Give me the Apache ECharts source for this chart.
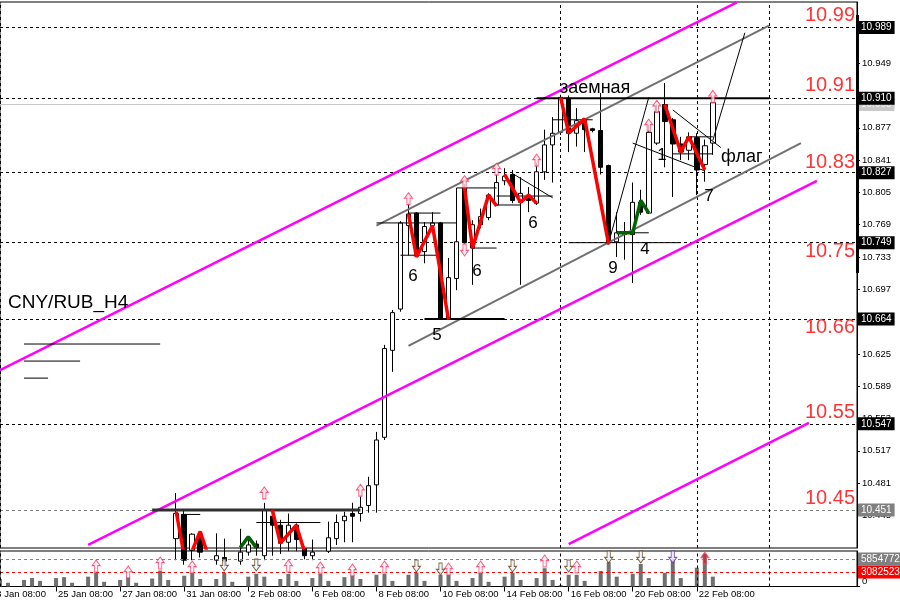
<!DOCTYPE html>
<html>
<head>
<meta charset="utf-8">
<script src="https://cdn.jsdelivr.net/npm/echarts@6.0.0/dist/echarts.min.js"></script>
<style>
html,body{margin:0;padding:0;background:#fff;}
#main{width:900px;height:607px;}
</style>
</head>
<body>
<div id="main"></div>
<script>
// trading days of the H4 chart, 4 bars per day
const days = ['23 Jan','24 Jan','25 Jan','26 Jan','27 Jan','30 Jan','31 Jan','1 Feb','2 Feb','3 Feb',
  '6 Feb','7 Feb','8 Feb','9 Feb','10 Feb','13 Feb','14 Feb','15 Feb','16 Feb','17 Feb',
  '20 Feb','21 Feb','22 Feb','24 Feb','27 Feb','28 Feb','1 Mar','2 Mar'];
const hours = ['08:00','12:00','16:00','20:00'];
const barCount = 90;     // bars with data, the rest is the empty shift on the right
const slotCount = 108;

// candles, first visible bar is index 22 (everything before is below the window)
const firstBar = 22;
const opens  = [10.419,10.446,10.406,10.424,10.395,10.395,10.398,10.396,10.394,10.404,10.413,10.400,10.444,10.434,10.415,10.434,10.408,10.400,10.404,10.405,
  10.419,10.439,10.447,10.447,10.456,10.479,10.532,10.629,10.675,10.768,10.782,10.739,10.768,10.771,10.665,10.709,10.810,10.743,10.769,10.777,
  10.791,10.818,10.825,10.794,10.802,10.793,10.828,10.858,10.872,10.910,10.871,10.887,10.876,10.874,10.835,10.750,10.759,10.758,10.794,10.782,
  10.860,10.903,10.886,10.859,10.852,10.866,10.836,10.860];
const highs  = [10.470,10.450,10.425,10.427,10.400,10.425,10.419,10.402,10.430,10.421,10.417,10.459,10.449,10.440,10.447,10.436,10.410,10.418,10.407,10.438,
  10.446,10.449,10.459,10.466,10.488,10.538,10.635,10.674,10.773,10.793,10.783,10.772,10.783,10.772,10.732,10.810,10.814,10.774,10.787,10.804,
  10.825,10.832,10.830,10.822,10.811,10.838,10.875,10.889,10.914,10.913,10.899,10.888,10.877,10.916,10.836,10.783,10.772,10.816,10.808,10.880,
  10.903,10.927,10.888,10.867,10.872,10.871,10.864,10.906];
const lows   = [10.395,10.390,10.395,10.398,10.385,10.390,10.388,10.388,10.390,10.400,10.400,10.395,10.400,10.402,10.405,10.405,10.396,10.395,10.396,10.403,
  10.412,10.415,10.415,10.438,10.448,10.448,10.529,10.605,10.672,10.735,10.733,10.726,10.765,10.664,10.663,10.696,10.747,10.702,10.765,10.774,
  10.790,10.813,10.793,10.702,10.783,10.791,10.819,10.816,10.869,10.850,10.856,10.850,10.872,10.825,10.747,10.733,10.730,10.704,10.780,10.781,
  10.858,10.833,10.800,10.841,10.841,10.802,10.817,10.847];
const closes = [10.447,10.395,10.424,10.404,10.390,10.400,10.394,10.392,10.404,10.412,10.409,10.451,10.434,10.414,10.434,10.418,10.400,10.404,10.400,10.420,
  10.437,10.444,10.444,10.454,10.478,10.529,10.631,10.671,10.771,10.781,10.734,10.767,10.771,10.665,10.710,10.750,10.749,10.769,10.778,10.802,
  10.816,10.823,10.796,10.804,10.796,10.828,10.858,10.871,10.911,10.871,10.885,10.875,10.874,10.833,10.749,10.760,10.758,10.794,10.783,10.872,
  10.895,10.884,10.859,10.850,10.867,10.830,10.857,10.905];

// tick volume per bar, index 0..89
const volumes = [1600000,800000,0,1400000,1800000,1200000,0,1800000,2000000,800000,0,2100000,3000000,1000000,0,1400000,2000000,800000,0,1700000,
  3400000,1400000,0,2300000,2900000,1600000,0,1600000,2900000,1000000,0,2100000,2700000,2100000,0,1600000,2700000,1200000,0,1800000,
  2700000,1200000,0,2000000,2500000,1600000,0,2500000,2700000,1200000,0,2500000,3000000,1200000,0,2500000,2500000,1200000,0,1800000,
  2900000,1000000,0,2100000,2900000,1400000,0,1800000,3900000,1400000,300000,2500000,2500000,1200000,0,3300000,5200000,2100000,0,2700000,
  4800000,1800000,0,2900000,5600000,1800000,0,4000000,6900000,2100000];
const volMax = 7570000;

// price scale
const priceMin = 10.4086;
const priceMax = 11.0173;
const priceTicks = [10.445,10.481,10.517,10.553,10.589,10.625,10.661,10.697,10.733,10.769,10.805,10.841,10.877,10.913,10.949,10.985];

// horizontal levels with their boxes on the price scale
const blackLevels = [10.989, 10.910, 10.827, 10.749, 10.664, 10.547];
const grayLevel = 10.451;
const bidLevel = 10.903;
const volLevels = [5854772, 3082523];
const vLines = [0, 70, 87, 96];

// big red level captions
const captionPrices = [11.002, 10.924, 10.838, 10.739, 10.654, 10.560, 10.464];
const captionTexts = ['10.99','10.91','10.83','10.75','10.66','10.55','10.45'];

// channels and drawn lines: [[bar, price], [bar, price]]
const magentaLines = [
  [[0, 10.607], [92, 11.017]],
  [[11, 10.412], [102, 10.818]],
  [[71, 10.413], [101, 10.548]]
];
const grayLines = [
  [[47, 10.768], [96, 10.991]],
  [[51, 10.634], [100, 10.860]]
];
const thickBlack = [
  [[67, 10.910], [96, 10.910]],
  [[53, 10.664], [63, 10.664]]
];
const thinBlack = [
  [[71, 10.749], [85, 10.749]],
  [[47, 10.771], [57, 10.771]],
  [[51, 10.782], [55, 10.782]],
  [[50, 10.735], [55, 10.735]],
  [[57, 10.810], [62, 10.810]],
  [[59, 10.743], [62, 10.743]],
  [[62, 10.801], [69, 10.801]],
  [[62, 10.791], [65, 10.791]],
  [[64, 10.826], [69, 10.799]],
  [[69, 10.886], [74, 10.886]],
  [[77, 10.760], [81, 10.760]],
  [[84, 10.897], [90, 10.855]],
  [[79, 10.860], [88, 10.829]],
  [[84, 10.848], [89, 10.848]],
  [[86, 10.867], [89, 10.867]],
  [[76, 10.749], [81, 10.911]],
  [[89, 10.863], [93, 10.983]],
  [[23, 10.446], [25, 10.446]],
  [[32, 10.437], [40, 10.437]],
  [[3, 10.636], [20, 10.636]],
  [[3, 10.617], [10, 10.617]],
  [[3, 10.598], [6, 10.598]]
];
const darkLevelSeg = [[[19, 10.451], [45, 10.451]]];

// zigzag swings
const redZigzag = [
  [[22, 10.449], [23, 10.400]],
  [[24, 10.406], [25, 10.427], [26, 10.400]],
  [[34, 10.451], [35, 10.414], [37, 10.434], [38, 10.405]],
  [[51, 10.781], [52, 10.733], [54, 10.768], [56, 10.663]],
  [[58, 10.810], [59, 10.743], [61, 10.802], [62, 10.790]],
  [[63, 10.825], [65, 10.794], [66, 10.802], [67, 10.793]],
  [[70, 10.911], [71, 10.871], [73, 10.887], [76, 10.747]],
  [[83, 10.903], [85, 10.850], [86, 10.867], [88, 10.830]]
];
const greenZigzag = [
  [[30, 10.409], [31, 10.421], [32, 10.409]],
  [[77, 10.760], [79, 10.760], [80, 10.796], [81, 10.782]]
];

// signal arrows
const upArrows = [[33,10.470],[45,10.473],[51,10.798],[58,10.817],[62,10.831],[67,10.841],[81,10.880],[82,10.901],[89,10.912]];
const downArrows = [[58, 10.741]];
const volUpArrows = [[12,4370000],[16,3090000],[20,5010000],[24,4160000],[36,4370000],[40,3950000],[44,3520000],[48,4160000],[56,3730000],[60,4160000],[68,5440000],[72,4160000]];
const volUpStrong = [[88, 6080000]];
const volDownArrows = [[28,4580000],[32,4580000],[52,4370000],[55,3730000],[64,4370000],[71,4370000],[76,6290000],[80,6290000]];
const volDownPurple = [[84, 6290000]];

// -------- build --------
const categories = [];
days.forEach(d => hours.forEach(h => categories.push(d + ' ' + h)));
categories.shift();
categories.length = slotCount;

const candles = [];
for (let i = 0; i < slotCount; i++) {
  const k = i - firstBar;
  if (k >= 0 && k < opens.length) candles.push([opens[k], closes[k], lows[k], highs[k]]);
  else candles.push(['-', '-', '-', '-']);
}
const volData = categories.map((c, i) => (i < volumes.length ? volumes[i] : '-'));

const FONT = 'Liberation Sans';
const ARROW = 'path://M5,0 L10,6 L7,6 L7,13 L3,13 L3,6 L0,6 Z';
const labelTick = (idx) => idx % 8 === 7 && idx < barCount;

const boxLabel = (bg, fg) => ({
  show: true, position: 'end', distance: 1, formatter: (p) => Number(p.value).toFixed(3),
  backgroundColor: bg, color: fg, fontSize: 10, fontFamily: FONT, padding: [2, 3, 1, 3]
});

const segSeries = (segs, style, z) => segs.map(pts => ({
  type: 'line', xAxisIndex: 0, yAxisIndex: 0, data: pts, symbol: 'none', silent: true,
  lineStyle: style, z: z || 3, animation: false
}));

const arrowSeries = (pts, grid, fill, stroke, rotate) => ({
  type: 'scatter', xAxisIndex: grid, yAxisIndex: grid, data: pts, symbol: ARROW,
  symbolSize: [8, 12], symbolRotate: rotate, silent: true, z: 6,
  itemStyle: { color: fill, borderColor: stroke, borderWidth: 1 }
});

const mainMarkLines = [];
mainMarkLines.push({
  yAxis: bidLevel, lineStyle: { color: '#c8c8c8', type: 'solid', width: 1 }, label: boxLabel('#c8c8c8', '#f4f4f4')
});
blackLevels.forEach(v => mainMarkLines.push({
  yAxis: v, lineStyle: { color: '#000', type: [3, 3], width: 1 }, label: boxLabel('#000', '#fff')
}));
mainMarkLines.push({
  yAxis: grayLevel, lineStyle: { color: '#808080', type: [3, 3], width: 1 }, label: boxLabel('#808080', '#fff')
});
vLines.forEach(v => mainMarkLines.push({
  xAxis: v, lineStyle: { color: '#000', type: [3, 3], width: 1 }, label: { show: false }
}));

const volMarkLines = [
  { yAxis: volLevels[0], lineStyle: { color: '#808080', type: [3, 3] }, label: { ...boxLabel('#808080', '#fff'), formatter: (p) => String(p.value) } },
  { yAxis: volLevels[1], lineStyle: { color: '#ff0000', type: [3, 3] }, label: { ...boxLabel('#ff0000', '#fff'), formatter: (p) => String(p.value) } }
];
vLines.forEach(v => volMarkLines.push({
  xAxis: v, lineStyle: { color: '#000', type: [3, 3], width: 1 }, label: { show: false }
}));

const txt = (text, x, y, size, center) => ({
  type: 'text', x: x, y: y, z: 10, silent: true,
  style: { text: text, font: size + 'px "Liberation Sans"', fill: '#000', align: center ? 'center' : 'left', verticalAlign: 'middle' }
});

const chart = echarts.init(document.getElementById('main'));
chart.setOption({
  animation: false,
  backgroundColor: '#ffffff',
  textStyle: { fontFamily: FONT },
  grid: [
    { left: 0, right: 43, top: 2, height: 546, show: true, borderColor: '#000', borderWidth: 1, outerBoundsMode: 'none' },
    { left: 0, right: 43, top: 551, height: 35.5, show: true, borderColor: '#000', borderWidth: 1, outerBoundsMode: 'none' }
  ],
  xAxis: [
    { type: 'category', gridIndex: 0, data: categories, boundaryGap: false, show: false },
    {
      type: 'category', gridIndex: 1, data: categories, boundaryGap: false,
      axisLine: { lineStyle: { color: '#000' } },
      axisTick: { show: true, interval: labelTick, length: 5, lineStyle: { color: '#000' } },
      axisLabel: { interval: labelTick, align: 'left', margin: 3, color: '#000', fontSize: 9.5, fontFamily: FONT, padding: [0, 0, 0, 2], hideOverlap: false },
      splitLine: { show: false }
    }
  ],
  yAxis: [
    {
      type: 'value', gridIndex: 0, position: 'right', min: priceMin, max: priceMax, scale: true,
      axisLine: { show: true, lineStyle: { color: '#000' } },
      axisTick: { show: true, length: 3, customValues: priceTicks, lineStyle: { color: '#000' } },
      axisLabel: { customValues: priceTicks, formatter: (v) => v.toFixed(3), color: '#000', fontSize: 9.5, fontFamily: FONT, margin: 5, hideOverlap: false },
      splitLine: { show: false }
    },
    {
      type: 'value', gridIndex: 1, position: 'right', min: 0, max: volMax,
      axisLine: { show: true, lineStyle: { color: '#000' } },
      axisTick: { show: true, length: 3, customValues: [0], lineStyle: { color: '#000' } },
      axisLabel: { customValues: [0], color: '#000', fontSize: 9.5, fontFamily: FONT, margin: 5, verticalAlign: 'bottom' },
      splitLine: { show: false }
    }
  ],
  series: [
    {
      type: 'candlestick', xAxisIndex: 0, yAxisIndex: 0, data: candles, barWidth: 5, z: 2,
      itemStyle: { color: '#ffffff', color0: '#000000', borderColor: '#000000', borderColor0: '#000000', borderColorDoji: '#000000', borderWidth: 1 },
      markLine: { symbol: 'none', silent: true, animation: false, precision: 3, data: mainMarkLines, z: 1 }
    },
    {
      type: 'bar', xAxisIndex: 1, yAxisIndex: 1, data: volData, barWidth: 4,
      itemStyle: { color: '#707070' },
      markLine: { symbol: 'none', silent: true, animation: false, precision: 0, data: volMarkLines }
    },
    ...segSeries(magentaLines, { color: '#ff00ff', width: 2.5 }),
    ...segSeries(grayLines, { color: '#707070', width: 2 }),
    ...segSeries(darkLevelSeg, { color: '#303030', width: 3 }),
    ...segSeries(thickBlack, { color: '#000', width: 2 }),
    ...segSeries(thinBlack, { color: '#000', width: 1 }),
    ...segSeries(redZigzag, { color: '#ff0000', width: 3.5 }, 4),
    ...segSeries(greenZigzag, { color: '#006400', width: 3.5 }, 4),
    arrowSeries(upArrows, 0, '#ffe4ea', '#ff3060', 0),
    arrowSeries(downArrows, 0, '#ffe4ea', '#ff3060', 180),
    arrowSeries(volUpArrows, 1, '#fff0f2', '#ff3060', 0),
    arrowSeries(volUpStrong, 1, '#c03040', '#ff5060', 0),
    arrowSeries(volDownArrows, 1, '#e8f0ff', '#604010', 180),
    arrowSeries(volDownPurple, 1, '#e8e0ff', '#6030a0', 180),
    {
      type: 'scatter', xAxisIndex: 0, yAxisIndex: 0, symbolSize: 0, silent: true, z: 7,
      data: captionPrices.map((p, i) => ({ value: [slotCount - 1, p], name: captionTexts[i] })),
      label: { show: true, position: 'left', distance: 2, formatter: (p) => p.name, color: '#ff0000', fontSize: 20, fontFamily: FONT }
    }
  ],
  graphic: [
    { type: 'rect', shape: { x: 856, y: 15, width: 3, height: 258 }, style: { fill: '#000' }, z: 10, silent: true },
    txt('CNY/RUB_H4', 8, 303, 19, false),
    txt('заемная', 560, 88, 18, false),
    txt('флаг', 721, 157, 18, false),
    txt('6', 413, 276, 17, true),
    txt('6', 477, 271, 17, true),
    txt('6', 533, 223, 17, true),
    txt('5', 437, 335, 17, true),
    txt('9', 613, 268, 17, true),
    txt('4', 645, 249, 17, true),
    txt('7', 709, 196, 17, true),
    txt('1', 662, 155, 17, true),
    txt('23 Jan 08:00', -9, 594, 9.5, false)
  ]
});
window.addEventListener('resize', () => chart.resize());
</script>
</body>
</html>
